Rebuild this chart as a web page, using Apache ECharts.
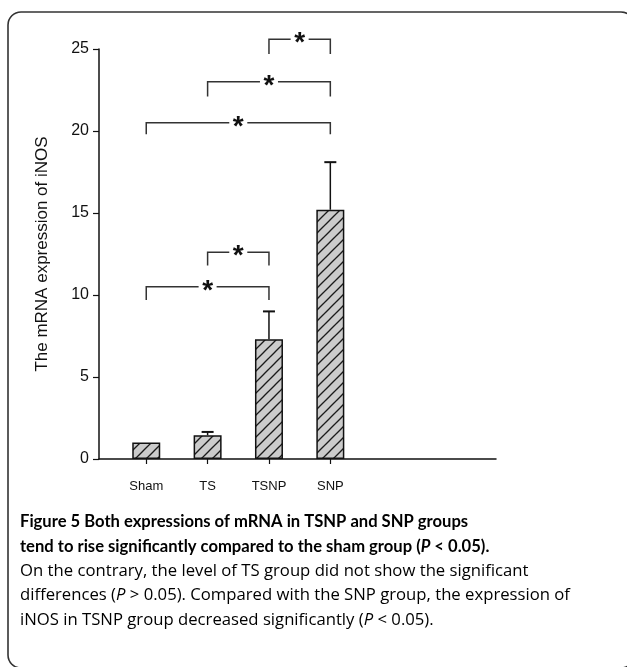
<!DOCTYPE html>
<html><head><meta charset="utf-8">
<script src="https://cdn.jsdelivr.net/npm/echarts@6/dist/echarts.min.js"></script>
<style>html,body{margin:0;padding:0;background:#fff}#c{width:627px;height:667px}</style>
</head><body><div id="c"></div>
<script>
// ---- data ----
const categories = ['Sham', 'TS', 'TSNP', 'SNP'];
const means = [1.0, 1.45, 7.3, 15.2];
const errors = [0, 0.2, 1.7, 2.9];
const yTicks = [0, 5, 10, 15, 20, 25];
// significance brackets (category index from/to, line level, leg bottom)
const bracketFrom = [2, 1, 0, 1, 0];
const bracketTo = [3, 3, 3, 2, 2];
const bracketLevel = [25.6, 23.0, 20.5, 12.6, 10.5];
const bracketLeg = [24.7, 22.1, 19.8, 11.8, 9.7];
const bracketMark = ['*', '*', '*', '*', '*'];
const yAxisTitle = 'The mRNA expression of iNOS';
const captionLines = [
  [['b', 'Figure 5 Both expressions of mRNA in TSNP and SNP groups']],
  [['b', 'tend to rise significantly compared to the sham group ('], ['bi', 'P'], ['b', ' < 0.05).']],
  [['r', 'On the contrary, the level of TS group did not show the significant']],
  [['r', 'differences ('], ['ri', 'P'], ['r', ' > 0.05). Compared with the SNP group, the expression of']],
  [['r', 'iNOS in TSNP group decreased significantly ('], ['ri', 'P'], ['r', ' < 0.05).']]
];

// ---- styles ----
const AX = 'Arial, "Liberation Sans", sans-serif';
const CAP = '"Open Sans", "Noto Sans", sans-serif';
const CAPB = 'Lato, "Open Sans", sans-serif';

function hatch() {
  const s = 11, c = document.createElement('canvas');
  c.width = s; c.height = s;
  const g = c.getContext('2d');
  g.fillStyle = '#cbcbcb'; g.fillRect(0, 0, s, s);
  g.strokeStyle = '#1a1a1a'; g.lineWidth = 1.3;
  g.beginPath(); g.moveTo(-2, s + 2); g.lineTo(s + 2, -2); g.stroke();
  g.beginPath(); g.moveTo(-2, 2); g.lineTo(2, -2); g.stroke();
  g.beginPath(); g.moveTo(s - 2, s + 2); g.lineTo(s + 2, s - 2); g.stroke();
  return c;
}

const chart = echarts.init(document.getElementById('c'), null, { renderer: 'canvas' });

const rich = {
  b: { fontFamily: CAPB, fontWeight: 'bold', fontSize: 16.6, color: '#1a1a1a' },
  bi: { fontFamily: CAPB, fontWeight: 'bold', fontStyle: 'italic', fontSize: 16.6, color: '#1a1a1a' },
  r: { fontFamily: CAP, fontWeight: 'normal', fontSize: 16.7, color: '#383838' },
  ri: { fontFamily: CAP, fontWeight: 'normal', fontStyle: 'italic', fontSize: 16.7, color: '#383838' }
};
const captionTop = 522, captionStep = 24.5;
const captionGraphics = captionLines.map((segs, i) => ({
  type: 'text', x: 20, y: captionTop + i * captionStep, silent: true,
  style: { text: segs.map(s => '{' + s[0] + '|' + s[1] + '}').join(''), rich: rich, verticalAlign: 'middle' }
}));

chart.setOption({
  animation: false,
  backgroundColor: '#fff',
  grid: { left: 99, top: 49, width: 397, height: 410, containLabel: false },
  xAxis: {
    type: 'value', min: 0.23, max: 6.7,
    axisLine: { show: true, lineStyle: { color: '#111', width: 1.5 } },
    axisTick: { show: true, customValues: [1, 2, 3, 4], length: 5, lineStyle: { color: '#111', width: 1.2 } },
    axisLabel: {
      customValues: [1, 2, 3, 4], margin: 21,
      formatter: v => categories[Math.round(v) - 1] || '',
      fontFamily: AX, fontSize: 13, color: '#111'
    },
    splitLine: { show: false }
  },
  yAxis: {
    type: 'value', min: yTicks[0], max: yTicks[yTicks.length - 1], interval: 5,
    name: yAxisTitle, nameLocation: 'middle', nameGap: 48, nameRotate: 90,
    nameTextStyle: { fontFamily: AX, fontSize: 17, color: '#111' },
    axisLine: { show: true, lineStyle: { color: '#111', width: 1.5 } },
    axisTick: { show: true, length: 6, lineStyle: { color: '#111', width: 1.2 } },
    axisLabel: { fontFamily: AX, fontSize: 16, color: '#111', margin: 10 },
    splitLine: { show: false }
  },
  graphic: [
    { type: 'rect', silent: true, shape: { x: 8, y: 12, width: 626, height: 656, r: 13 },
      style: { fill: 'none', stroke: '#333', lineWidth: 1.6 } }
  ].concat(captionGraphics),
  series: [
    {
      type: 'bar', barWidth: 28,
      data: categories.map((c, i) => [i + 1, means[i]]),
      itemStyle: { color: { image: hatch(), repeat: 'repeat' }, borderColor: '#111', borderWidth: 1.5 },
      z: 2
    },
    {
      type: 'custom', z: 3, clip: false,
      data: categories.map((c, i) => [i + 1, means[i], errors[i]]),
      renderItem: (params, api) => {
        const x = api.value(0), y = api.value(1), e = api.value(2);
        if (!e) return null;
        const p0 = api.coord([x, y]), p1 = api.coord([x, y + e]);
        const hw = 6;
        return { type: 'group', children: [
          { type: 'line', shape: { x1: p0[0], y1: p0[1], x2: p1[0], y2: p1[1] }, style: { stroke: '#111', lineWidth: 1.5 } },
          { type: 'line', shape: { x1: p1[0] - hw, y1: p1[1], x2: p1[0] + hw, y2: p1[1] }, style: { stroke: '#111', lineWidth: 2 } }
        ] };
      }
    },
    {
      type: 'custom', z: 4, clip: false,
      data: bracketFrom.map((f, i) => [f + 1, bracketTo[i] + 1, bracketLevel[i], bracketLeg[i]]),
      renderItem: (params, api) => {
        const i = params.dataIndex;
        const a = api.coord([api.value(0), api.value(2)]);
        const b = api.coord([api.value(1), api.value(2)]);
        const legA = api.coord([api.value(0), api.value(3)]);
        const legB = api.coord([api.value(1), api.value(3)]);
        const mx = (a[0] + b[0]) / 2, gap = 9;
        const st = { stroke: '#333', lineWidth: 1.5, fill: 'none' };
        return { type: 'group', children: [
          { type: 'polyline', shape: { points: [[legA[0], legA[1]], [a[0], a[1]], [mx - gap, a[1]]] }, style: st },
          { type: 'polyline', shape: { points: [[mx + gap, b[1]], [b[0], b[1]], [legB[0], legB[1]]] }, style: st },
          { type: 'text', x: mx, y: a[1] + 4, style: { text: bracketMark[i], fontFamily: AX, fontWeight: 'bold', fontSize: 28, fill: '#111', align: 'center', verticalAlign: 'middle' } }
        ] };
      }
    }
  ]
});
</script>
</body></html>
